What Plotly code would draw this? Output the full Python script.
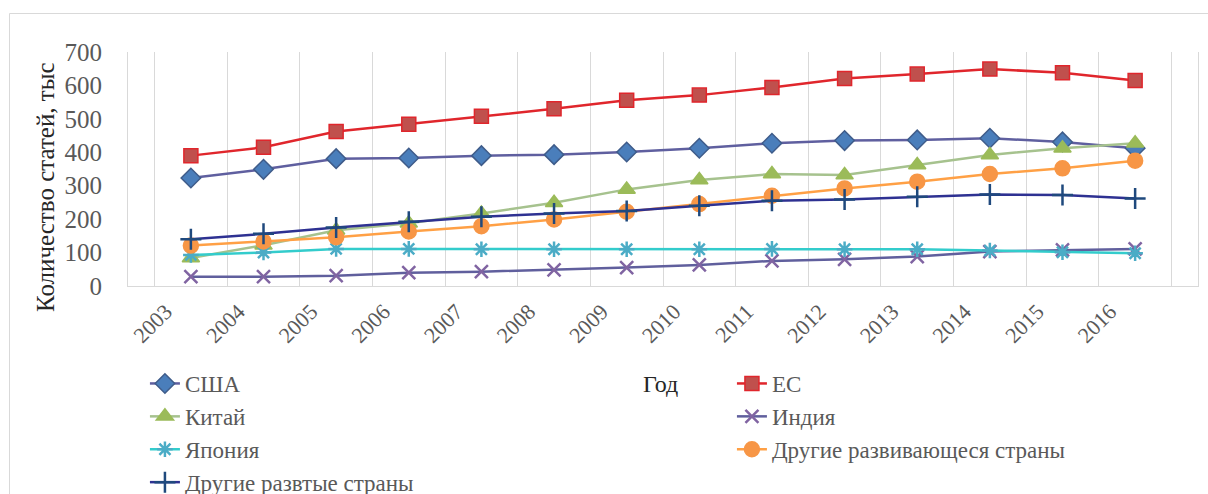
import plotly.graph_objects as go

# Publication counts (thousands of articles) by country group, 2003-2016
years = [str(y) for y in range(2003, 2017)]
usa = [323, 349, 381, 383, 390, 393, 401, 412, 427, 435, 437, 442, 431, 412]
eu = [390, 415, 462, 484, 508, 530, 556, 571, 594, 621, 634, 649, 638, 615]
china = [84, 122, 167, 188, 217, 249, 289, 317, 335, 332, 362, 392, 412, 427]
india = [28, 28, 31, 40, 43, 48, 55, 63, 75, 80, 88, 103, 108, 111]
japan = [93, 100, 111, 111, 110, 110, 110, 110, 111, 110, 110, 106, 101, 98]
other_developing = [121, 133, 146, 163, 179, 199, 222, 245, 270, 292, 312, 335, 352, 375]
other_developed = [140, 156, 175, 192, 207, 217, 224, 240, 255, 259, 267, 274, 272, 262]

series_names = ["США", "ЕС", "Китай", "Индия", "Япония",
                "Другие развивающеся страны", "Другие развтые страны"]
y_ticks = [0, 100, 200, 300, 400, 500, 600, 700]

FONT = "Liberation Serif"
TICK_GREY = "#595959"

# (values, line colour, marker symbol, marker fill, marker outline, size)
styles = [
    (usa, "#5F5F9F", "diamond", "#4A7EBB", "#3F5C8A", 15),
    (eu, "#E0262C", "square", "#C0504D", "#E0262C", 14),
    (china, "#A6C28E", "triangle-up", "#9BBB59", "#9BBB59", 15),
    (india, "#605F9D", "x-thin-open", "#8064A2", "#8064A2", 13),
    (japan, "#33CCCC", "asterisk-open", "#4BACC6", "#4BACC6", 13),
    (other_developing, "#FFA045", "circle", "#F79646", "#F79646", 15),
    (other_developed, "#2E3192", "cross-thin-open", "#1F497D", "#1F497D", 15),
]

fig = go.Figure()
for name, (vals, lc, sym, fill, outline, size) in zip(series_names, styles):
    open_sym = sym.endswith("-open")
    fig.add_trace(go.Scatter(
        x=years, y=vals, name=name, mode="lines+markers",
        line=dict(color=lc, width=2.5),
        marker=dict(symbol=sym, size=size, color=fill if not open_sym else outline,
                    line=dict(color=outline, width=2.5 if open_sym else 1.5)),
    ))

# plot-area geometry in pixels, used to place paper-referenced items
L, R, T, B = 128, 1198, 52, 286
PW, PH = R - L, B - T


def px_x(px):
    return (px - L) / PW


def px_y(py):
    return (B - py) / PH


fig.update_layout(
    width=1208, height=494,
    margin=dict(l=L, r=1208 - R, t=T, b=494 - B, autoexpand=False),
    paper_bgcolor="white", plot_bgcolor="white",
    font=dict(family=FONT, color=TICK_GREY),
    showlegend=True,
    legend=dict(
        orientation="h", x=-0.001, xanchor="left",
        y=px_y(362), yanchor="top",
        font=dict(family=FONT, size=23, color=TICK_GREY),
        entrywidth=524, indentation=18,
        bgcolor="rgba(0,0,0,0)",
    ),
    xaxis=dict(
        type="category", tickson="boundaries",
        showgrid=True, gridcolor="#D9D9D9", gridwidth=1,
        showline=True, linecolor="#D9D9D9", linewidth=1,
        ticks="", tickangle=-45,
        tickfont=dict(family=FONT, size=22, color=TICK_GREY),
        ticklabelstandoff=3, ticklabelshift=-25,
        zeroline=False,
    ),
    yaxis=dict(
        range=[0, 700], tickvals=y_ticks,
        showgrid=False, zeroline=False,
        showline=True, mirror=True, linecolor="#D9D9D9", linewidth=1,
        ticks="", ticklabelstandoff=20,
        tickfont=dict(family=FONT, size=25, color=TICK_GREY),
    ),
    annotations=[
        dict(text="Количество статей, тыс", textangle=-90,
             x=px_x(45), y=px_y(187), xref="paper", yref="paper",
             xanchor="center", yanchor="middle", showarrow=False,
             font=dict(family=FONT, size=25, color="#262626")),
        dict(text="Год", x=px_x(660), y=px_y(384), xref="paper", yref="paper",
             xanchor="center", yanchor="middle", showarrow=False,
             font=dict(family=FONT, size=24, color="#262626")),
    ],
    shapes=[
        dict(type="rect", xref="paper", yref="paper", layer="below",
             x0=px_x(9.5), x1=px_x(1220), y0=px_y(520), y1=px_y(13.5),
             line=dict(color="#D9D9D9", width=1), fillcolor="rgba(0,0,0,0)"),
    ],
)

fig.write_html("out.html")
